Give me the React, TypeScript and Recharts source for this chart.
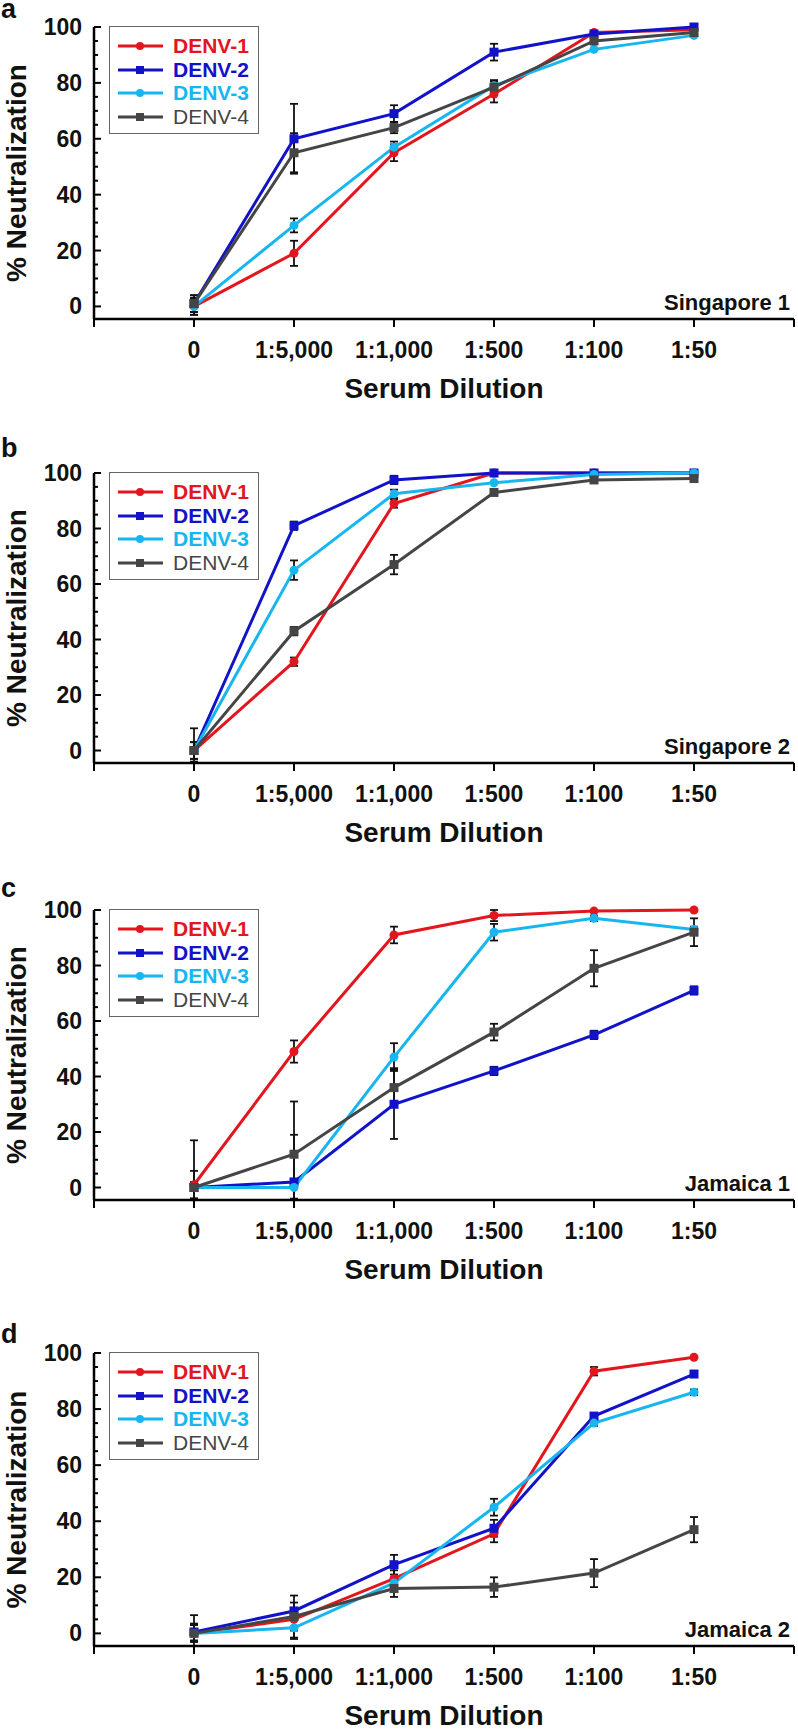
import React from "react";
import { LineChart, Line, XAxis, YAxis, ErrorBar } from "recharts";

const dilutions = ["0", "1:5,000", "1:1,000", "1:500", "1:100", "1:50"];
const serotypes = ["DENV-1", "DENV-2", "DENV-3", "DENV-4"];
const colors = ["#e3161d", "#1212c8", "#18b6f0", "#454545"];
const yTicks = [0, 5, 10, 15, 20, 25, 30, 35, 40, 45, 50, 55, 60, 65, 70, 75, 80, 85, 90, 95, 100];
const xTicks = [-1, 0, 1, 2, 3, 4, 5, 6];

type Err = number | [number, number];

// rows: DENV-1..4, columns follow dilutions
const singapore1Values = [
  [0, 19, 55, 76, 98, 99],
  [1, 60, 69, 91, 97.5, 100],
  [0, 29, 57, 79, 92, 97],
  [1, 55, 64, 78.5, 95, 98],
];
const singapore1Errors: Err[][] = [
  [3, 4.5, 3, 3, 0, 0],
  [3, 12.5, 3, 3, 0, 0],
  [3, 2.5, 2, 2, 0, 0],
  [3, 7, 2, 2, 0, 0],
];

const singapore2Values = [
  [0, 32, 89, 100, 100, 100],
  [0, 81, 97.5, 100, 100, 100],
  [0, 65, 92.5, 96.5, 99.5, 100],
  [0, 43, 67, 93, 97.5, 98],
];
const singapore2Errors: Err[][] = [
  [0, 1.5, 1.5, 0, 0, 0],
  [3, 1.5, 1.5, 0, 0, 0],
  [3, 3.5, 1.5, 0, 0, 0],
  [[4, 8], 1.5, 3.5, 1, 0, 0],
];

const jamaica1Values = [
  [1, 49, 91, 98, 99.6, 100],
  [0, 2, 30, 42, 55, 71],
  [0, 0, 47, 92, 97, 93],
  [0, 12, 36, 56, 79, 92],
];
const jamaica1Errors: Err[][] = [
  [[5, 5], 4, 3, 2, 0, 0],
  [[4, 2], [6.5, 17], 12.5, 1.5, 1.5, 1.5],
  [[4, 2], [4, 3], 5, 3, 1, 1],
  [[4.5, 17], [16.5, 19], 7, 3, 6.5, 5],
];

const jamaica2Values = [
  [0, 5, 19.5, 35.5, 93.5, 98.5],
  [0.5, 8, 24.5, 37.5, 77.5, 92.5],
  [0, 2, 18, 45, 75, 86],
  [0, 6, 16, 16.5, 21.5, 37],
];
const jamaica2Errors: Err[][] = [
  [3, 4, 3, 3, 1.5, 0],
  [3, 3, 3.5, 3, 1, 1],
  [3, 4, 2, 3, 1, 1],
  [[4.5, 6.5], 7.5, 3, 3.5, 5, 4.5],
];

const FONT = '"Liberation Sans", Arial, Helvetica, sans-serif';
const AXIS_X = 94;
const CHART_H = 420;
const TOP_PAD = 27;

const panels = [
  { letter: "a", site: "Singapore 1", values: singapore1Values, errors: singapore1Errors, plotTop: 27, plotH: 292, letterY: 18 },
  { letter: "b", site: "Singapore 2", values: singapore2Values, errors: singapore2Errors, plotTop: 473, plotH: 290, letterY: 457 },
  { letter: "c", site: "Jamaica 1", values: jamaica1Values, errors: jamaica1Errors, plotTop: 910, plotH: 290, letterY: 897 },
  { letter: "d", site: "Jamaica 2", values: jamaica2Values, errors: jamaica2Errors, plotTop: 1353, plotH: 293, letterY: 1343 },
];

function buildRows(values: number[][], errors: Err[][]) {
  return dilutions.map((_, i) => {
    const row: Record<string, number | [number, number]> = { x: i };
    values.forEach((v, s) => {
      row[`d${s + 1}`] = v[i];
      row[`e${s + 1}`] = errors[s][i];
    });
    return row;
  });
}

function YTick(props: any) {
  const { y, payload } = props;
  const v = payload.value;
  const major = v % 20 === 0;
  return (
    <g>
      <line x1={AXIS_X} x2={AXIS_X + (major ? 7 : 4)} y1={y} y2={y} stroke="#000" strokeWidth={2} />
      {major && (
        <text x={82} y={y} dy={8} textAnchor="end" fontFamily={FONT} fontWeight="bold" fontSize={23} fill="#111">
          {v}
        </text>
      )}
    </g>
  );
}

function XTick(props: any) {
  const { x, payload, axisY } = props;
  const label = dilutions[payload.value] ?? "";
  return (
    <text x={x} y={axisY + 39} textAnchor="middle" fontFamily={FONT} fontWeight="bold" fontSize={23} fill="#111">
      {label}
    </text>
  );
}

function makeDot(color: string, square: boolean) {
  return (p: any) => {
    if (p.cx == null || p.cy == null) return <g key={p.index} />;
    return square ? (
      <rect key={p.index} x={p.cx - 4.5} y={p.cy - 4.5} width={9} height={9} fill={color} />
    ) : (
      <circle key={p.index} cx={p.cx} cy={p.cy} r={4.5} fill={color} />
    );
  };
}

function LegendBox({ top }: { top: number }) {
  return (
    <div
      style={{
        position: "absolute",
        left: 109,
        top,
        width: 150,
        height: 108,
        border: "1.5px solid #666",
        background: "#fff",
        boxSizing: "border-box",
      }}
    >
      {serotypes.map((name, s) => (
        <div key={name} style={{ position: "absolute", left: 0, top: 7 + s * 23.5, height: 24, width: 148 }}>
          <svg width={56} height={24} style={{ position: "absolute", left: 0, top: 0 }}>
            <line x1={8} x2={53} y1={12} y2={12} stroke={colors[s]} strokeWidth={3} />
            {s % 2 === 1 ? (
              <rect x={26} y={8} width={8} height={8} fill={colors[s]} />
            ) : (
              <circle cx={30} cy={12} r={4} fill={colors[s]} />
            )}
          </svg>
          <span
            style={{
              position: "absolute",
              left: 63,
              top: 0,
              lineHeight: "24px",
              fontFamily: FONT,
              fontSize: 21,
              fontWeight: s === 3 ? "normal" : "bold",
              color: colors[s],
            }}
          >
            {name}
          </span>
        </div>
      ))}
    </div>
  );
}

function Panel({ panel }: { panel: (typeof panels)[number] }) {
  const rows = buildRows(panel.values, panel.errors);
  const axisY = TOP_PAD + panel.plotH;
  return (
    <div style={{ position: "absolute", left: 0, top: panel.plotTop - TOP_PAD, width: 798, height: CHART_H }}>
      <LineChart width={798} height={CHART_H} data={rows} margin={{ top: TOP_PAD, right: 4, left: 0, bottom: 0 }}>
        <XAxis
          dataKey="x"
          type="number"
          domain={[-1, 6]}
          ticks={xTicks}
          interval={0}
          axisLine={{ stroke: "#000", strokeWidth: 2.5 }}
          tickLine={{ stroke: "#000", strokeWidth: 2 }}
          tickSize={8}
          tickMargin={0}
          height={CHART_H - TOP_PAD - panel.plotH}
          tick={(p: any) => <XTick {...p} axisY={axisY} />}
        />
        <YAxis
          type="number"
          domain={[-4.5, 100]}
          ticks={yTicks}
          interval={0}
          width={AXIS_X}
          axisLine={{ stroke: "#000", strokeWidth: 2.5 }}
          tickLine={false}
          tickSize={0}
          tickMargin={0}
          tick={(p: any) => <YTick {...p} />}
        />
        {serotypes.map((name, s) => (
          <Line
            key={name}
            type="linear"
            dataKey={`d${s + 1}`}
            name={name}
            stroke={colors[s]}
            strokeWidth={3}
            dot={makeDot(colors[s], s % 2 === 1)}
            activeDot={false}
            isAnimationActive={false}
          >
            <ErrorBar dataKey={`e${s + 1}`} direction="y" width={4} stroke="#111" strokeWidth={1.8} />
          </Line>
        ))}
      </LineChart>
    </div>
  );
}

export default function App() {
  return (
    <div style={{ position: "absolute", left: 0, top: 0, width: 798, height: 1730, background: "#fff" }}>
      {panels.map((p) => (
        <Panel key={p.letter} panel={p} />
      ))}
      {panels.map((p) => (
        <LegendBox key={`lg-${p.letter}`} top={p.plotTop - 1} />
      ))}
      <svg width={798} height={1730} style={{ position: "absolute", left: 0, top: 0, pointerEvents: "none" }}>
        {panels.map((p) => {
          const axisY = p.plotTop + p.plotH;
          const cy = p.plotTop + p.plotH / 2;
          return (
            <g key={`txt-${p.letter}`} fontFamily={FONT} fontWeight="bold" fill="#111">
              <text x={1} y={p.letterY} fontSize={27}>
                {p.letter}
              </text>
              <text x={790} y={axisY - 9} fontSize={22} textAnchor="end">
                {p.site}
              </text>
              <text x={444} y={axisY + 79} fontSize={28} textAnchor="middle">
                Serum Dilution
              </text>
              <text x={26} y={cy} fontSize={28} textAnchor="middle" transform={`rotate(-90 26 ${cy})`}>
                % Neutralization
              </text>
            </g>
          );
        })}
      </svg>
    </div>
  );
}
